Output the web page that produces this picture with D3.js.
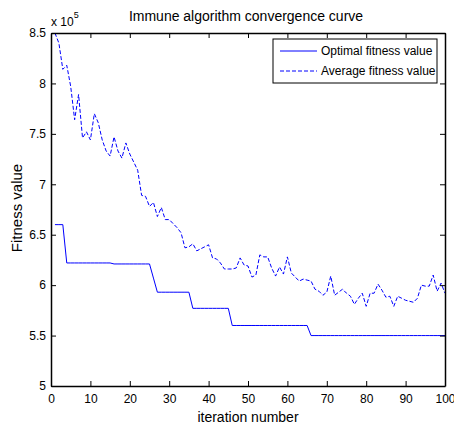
<!DOCTYPE html>
<html>

<head>
  <title>Immune algorithm convergence curve</title>
  <script src="https://cdn.jsdelivr.net/npm/d3@7"></script>
  <style>
    body { margin: 0; background: #fff; }
    text { font-family: "Liberation Sans", Arial, sans-serif; }
  </style>
</head>

<body>
  <div id="chart"></div>

  <script>
    // iteration numbers 1..100
    const iterations = d3.range(1, 101);

    // Optimal fitness value (x 10^5)
    const optimalValues = [
      6.60, 6.60, 6.60, 6.22, 6.22, 6.22, 6.22, 6.22, 6.22, 6.22,
      6.22, 6.22, 6.22, 6.22, 6.22, 6.21, 6.21, 6.21, 6.21, 6.21,
      6.21, 6.21, 6.21, 6.21, 6.21, 6.07, 5.93, 5.93, 5.93, 5.93,
      5.93, 5.93, 5.93, 5.93, 5.93, 5.77, 5.77, 5.77, 5.77, 5.77,
      5.77, 5.77, 5.77, 5.77, 5.77, 5.60, 5.60, 5.60, 5.60, 5.60,
      5.60, 5.60, 5.60, 5.60, 5.60, 5.60, 5.60, 5.60, 5.60, 5.60,
      5.60, 5.60, 5.60, 5.60, 5.60, 5.50, 5.50, 5.50, 5.50, 5.50,
      5.50, 5.50, 5.50, 5.50, 5.50, 5.50, 5.50, 5.50, 5.50, 5.50,
      5.50, 5.50, 5.50, 5.50, 5.50, 5.50, 5.50, 5.50, 5.50, 5.50,
      5.50, 5.50, 5.50, 5.50, 5.50, 5.50, 5.50, 5.50, 5.50, 5.50
    ];

    // Average fitness value (x 10^5)
    const averageValues = [
      8.50, 8.40, 8.14, 8.18, 7.97, 7.64, 7.89, 7.46, 7.52, 7.44,
      7.70, 7.61, 7.44, 7.33, 7.28, 7.47, 7.33, 7.26, 7.41, 7.30,
      7.22, 7.14, 6.89, 6.88, 6.78, 6.82, 6.68, 6.77, 6.65, 6.65,
      6.61, 6.57, 6.52, 6.37, 6.38, 6.41, 6.34, 6.36, 6.38, 6.40,
      6.27, 6.26, 6.22, 6.16, 6.16, 6.16, 6.17, 6.27, 6.20, 6.19,
      6.08, 6.10, 6.30, 6.28, 6.28, 6.17, 6.09, 6.18, 6.11, 6.28,
      6.12, 6.08, 6.04, 6.06, 6.05, 6.04, 5.96, 5.94, 5.90, 5.93,
      6.09, 5.90, 5.93, 5.96, 5.92, 5.89, 5.81, 5.87, 5.92, 5.79,
      5.92, 5.92, 6.01, 5.95, 5.88, 5.89, 5.79, 5.89, 5.87, 5.85,
      5.84, 5.83, 5.87, 6.00, 5.99, 5.99, 6.10, 5.94, 6.02, 5.92
    ];

    const seriesNames = ["Optimal fitness value", "Average fitness value"];
    const xTicks = d3.range(0, 101, 10);
    const yTicks = [5, 5.5, 6, 6.5, 7, 7.5, 8, 8.5];

    const w = 454;
    const h = 428;
    const plotLeft = 51, plotRight = 445, plotTop = 33, plotBottom = 386;

    const svg = d3.select("#chart")
      .append("svg")
      .attr("width", w)
      .attr("height", h);

    const x = d3.scaleLinear().domain([0, 100]).range([plotLeft, plotRight]);
    const y = d3.scaleLinear().domain([5, 8.5]).range([plotBottom, plotTop]);

    // lines
    const line = d3.line()
      .x(function (d) { return x(d[0]); })
      .y(function (d) { return y(d[1]); });

    svg.append("path")
      .datum(d3.zip(iterations, optimalValues))
      .attr("d", line)
      .attr("fill", "none")
      .attr("stroke", "#0000ff")
      .attr("stroke-width", 1);

    svg.append("path")
      .datum(d3.zip(iterations, averageValues))
      .attr("d", line)
      .attr("fill", "none")
      .attr("stroke", "#0000ff")
      .attr("stroke-width", 1)
      .attr("stroke-dasharray", "4,2");

    // axes, ticks inside like matlab
    function styleAxis(g) {
      g.selectAll("path").attr("stroke", "#000").attr("stroke-width", 1.5);
      g.selectAll("line").attr("stroke", "#000");
      g.selectAll("text")
        .attr("font-family", "Liberation Sans, Arial, sans-serif")
        .attr("font-size", "12px")
        .attr("fill", "#000");
    }

    svg.append("g")
      .attr("transform", "translate(0," + plotBottom + ")")
      .call(d3.axisBottom(x).tickValues(xTicks).tickSizeInner(-5).tickSizeOuter(0).tickPadding(8))
      .call(styleAxis);

    svg.append("g")
      .attr("transform", "translate(0," + plotTop + ")")
      .call(d3.axisTop(x).tickValues(xTicks).tickSizeInner(-5).tickSizeOuter(0).tickFormat(""))
      .call(styleAxis);

    svg.append("g")
      .attr("transform", "translate(" + plotLeft + ",0)")
      .call(d3.axisLeft(y).tickValues(yTicks).tickSizeInner(-5).tickSizeOuter(0).tickPadding(5)
        .tickFormat(d3.format("")))
      .call(styleAxis);

    svg.append("g")
      .attr("transform", "translate(" + plotRight + ",0)")
      .call(d3.axisRight(y).tickValues(yTicks).tickSizeInner(-5).tickSizeOuter(0).tickFormat(""))
      .call(styleAxis);

    // exponent note
    const expo = svg.append("text")
      .attr("x", 51)
      .attr("y", 26)
      .attr("font-size", "12px")
      .text("x 10");
    expo.append("tspan")
      .attr("dy", -8)
      .attr("font-size", "9px")
      .text("5");

    // title and axis labels
    svg.append("text")
      .attr("x", 246)
      .attr("y", 21)
      .attr("text-anchor", "middle")
      .attr("font-size", "14px")
      .text("Immune algorithm convergence curve");

    svg.append("text")
      .attr("x", 248)
      .attr("y", 422)
      .attr("text-anchor", "middle")
      .attr("font-size", "14px")
      .text("iteration number");

    svg.append("text")
      .attr("transform", "translate(22,208) rotate(-90)")
      .attr("text-anchor", "middle")
      .attr("font-size", "15px")
      .text("Fitness value");

    // legend
    const legend = svg.append("g");
    legend.append("rect")
      .attr("x", 273)
      .attr("y", 39)
      .attr("width", 164)
      .attr("height", 44)
      .attr("fill", "#fff")
      .attr("stroke", "#000")
      .attr("stroke-width", 1);

    legend.selectAll(".item")
      .data(seriesNames)
      .enter()
      .append("line")
      .attr("x1", 280)
      .attr("x2", 317)
      .attr("y1", function (d, i) { return 51 + i * 20; })
      .attr("y2", function (d, i) { return 51 + i * 20; })
      .attr("stroke", "#0000ff")
      .attr("stroke-dasharray", function (d, i) { return i === 1 ? "4,2" : null; });

    legend.selectAll("text")
      .data(seriesNames)
      .enter()
      .append("text")
      .attr("x", 321)
      .attr("y", function (d, i) { return 55 + i * 20; })
      .attr("font-size", "12px")
      .text(function (d) { return d; });
  </script>
</body>

</html>
